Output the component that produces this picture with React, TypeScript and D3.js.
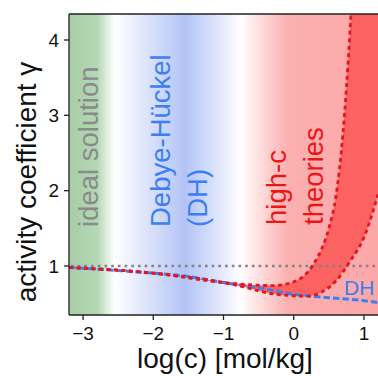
import React from "react";
import * as d3 from "d3";

// Debye-Hückel curve
const dhLogC = [-3.2, -3, -2.5, -2, -1.5, -1, -0.5, 0, 0.5, 1, 1.2];
const dhGamma = [0.98, 0.97, 0.94, 0.905, 0.86, 0.78, 0.71, 0.625, 0.58, 0.54, 0.515];

// high-c theories band, upper edge
const upLogC = [-3.2, -2, -1, -0.7, -0.5, -0.3, 0, 0.2, 0.3, 0.4, 0.5, 0.6, 0.7, 0.8, 0.9];
const upGamma = [0.98, 0.905, 0.78, 0.755, 0.745, 0.74, 0.79, 0.92, 1.05, 1.23, 1.5, 1.92, 2.75, 4.1, 6];

// high-c theories band, lower edge
const loLogC = [-3.2, -2, -1, -0.7, -0.5, -0.3, 0, 0.2, 0.4, 0.6, 0.8, 1.0, 1.2];
const loGamma = [0.98, 0.905, 0.78, 0.72, 0.67, 0.63, 0.605, 0.6, 0.655, 0.8, 1.06, 1.38, 1.95];

const xTicks = [-3, -2, -1, 0, 1];
const yTicks = [1, 2, 3, 4];

// background regions (log c -> colour)
const bgStops: [number, string][] = [
  [-3.2, "#a6cea6"],
  [-2.8, "#b4d7b4"],
  [-2.55, "#ffffff"],
  [-1.55, "#b3c3f6"],
  [-0.75, "#ffffff"],
  [-0.65, "#fff0f0"],
  [-0.1, "#fbb0b0"],
  [1.2, "#fca7a7"],
];

const font = "'Liberation Sans', Arial, sans-serif";

export default function App() {
  const W = 378, H = 376;
  const left = 69, right = 379, top = 14, bottom = 315;

  const x = d3.scaleLinear().domain([-3.2, 1.2]).range([left, 378]);
  const y = d3.scaleLinear().domain([1, 4]).range([266, 40]);

  const line = d3.line<[number, number]>()
    .x(d => x(d[0]))
    .y(d => y(d[1]))
    .curve(d3.curveMonotoneX);

  const dhPts = dhLogC.map((c, i) => [c, dhGamma[i]] as [number, number]);
  const upPts = upLogC.map((c, i) => [c, upGamma[i]] as [number, number]);
  const loPts = loLogC.map((c, i) => [c, loGamma[i]] as [number, number]);

  // band polygon: upper edge, over the top-right corner, lower edge back
  const upPath = line(upPts) || "";
  const loRev = (line(loPts.slice().reverse()) || "");
  const cornerTop = `L${x(1.3)},${y(6)}L${x(1.3)},${y(1.95)}`;
  const bandPath = upPath + cornerTop + "L" + loRev.slice(1) + "Z";

  return (
    <svg width={W} height={H} style={{ position: "absolute", left: 0, top: 0 }}>
      <defs>
        <linearGradient id="bg" x1="0" x2="1" y1="0" y2="0">
          {bgStops.map(([c, col], i) => (
            <stop key={i} offset={(x(c) - left) / (378 - left)} stopColor={col} />
          ))}
        </linearGradient>
        <clipPath id="plot">
          <rect x={left} y={top} width={right - left} height={bottom - top} />
        </clipPath>
      </defs>

      <rect x={left} y={top} width={right - left} height={bottom - top} fill="url(#bg)" />

      <g clipPath="url(#plot)">
        <path d={bandPath} fill="#fd6262" />

        <line x1={left + 2} x2={right} y1={y(1)} y2={y(1)} stroke="#838383" strokeWidth={2.6}
          strokeDasharray="2.6,4.1" />

        <path d={line(dhPts) || ""} fill="none" stroke="#3b80f2" strokeWidth={3}
          strokeDasharray="6.5,3" />
        <path d={upPath} fill="none" stroke="#e8141c" strokeWidth={2.8} strokeDasharray="4,3.5" />
        <path d={line(loPts) || ""} fill="none" stroke="#e8141c" strokeWidth={2.8}
          strokeDasharray="4,3.5" />

        {/* region labels */}
        <g fontFamily={font} fontSize={27.5}>
          <text transform="translate(98,227) rotate(-90)" fill="#8a8a8a">ideal solution</text>
          <text transform="translate(170,227) rotate(-90)" fill="#3b80f2">Debye-Hückel</text>
          <text transform="translate(207,227) rotate(-90)" fill="#3b80f2">(DH)</text>
          <text transform="translate(286,225) rotate(-90)" fill="#ee1515">high-c</text>
          <text transform="translate(323,225) rotate(-90)" fill="#ee1515">theories</text>
        </g>
        <text x={344} y={295} fontFamily={font} fontSize={21} fill="#3b80f2">DH</text>
      </g>

      {/* spines */}
      <g stroke="#222" strokeWidth={1.3} fill="none">
        <line x1={left} x2={left} y1={top} y2={bottom} />
        <line x1={left} x2={right} y1={bottom} y2={bottom} />
        <line x1={left} x2={right} y1={top} y2={top} />
      </g>

      {/* axes */}
      <g fontFamily={font} fontSize={19} fill="#111">
        {xTicks.map(t => (
          <g key={t}>
            <line x1={x(t)} x2={x(t)} y1={bottom} y2={bottom + 5} stroke="#222" strokeWidth={1.3} />
            <text x={x(t)} y={340} textAnchor="middle">{t < 0 ? "\u2212" + Math.abs(t) : t}</text>
          </g>
        ))}
        {yTicks.map(t => (
          <g key={t}>
            <line x1={left - 5} x2={left} y1={y(t)} y2={y(t)} stroke="#222" strokeWidth={1.3} />
            <text x={59} y={y(t)} dy="0.35em" textAnchor="end">{t}</text>
          </g>
        ))}
      </g>

      <text x={225} y={368} textAnchor="middle" fontFamily={font} fontSize={28} fill="#111">
        log(c) [mol/kg]
      </text>
      <text transform="translate(36,182) rotate(-90)" textAnchor="middle" fontFamily={font}
        fontSize={28} fill="#111">
        activity coefficient γ
      </text>
    </svg>
  );
}
